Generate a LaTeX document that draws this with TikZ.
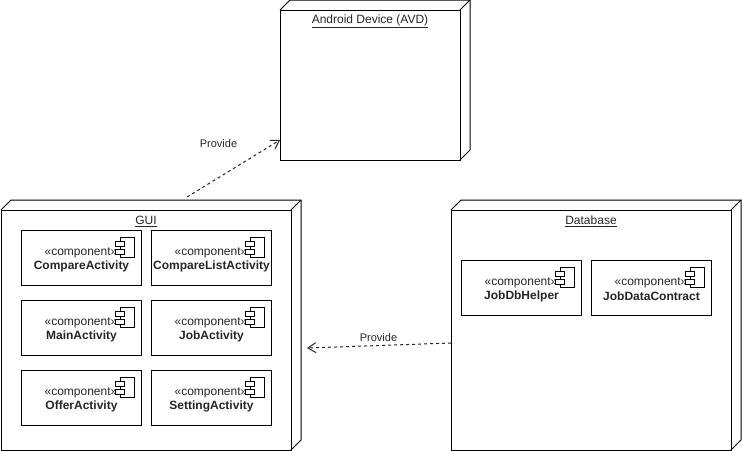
\documentclass[tikz,border=0pt]{standalone}
\usepackage{fontspec}
\setmainfont{Liberation Sans}
\usetikzlibrary{arrows.meta}
\newcommand{\UmlNode}[6]{% name, x1, y1, x2, y2, title
  \node[devbox, minimum width={(#4-#2)*1pt}, minimum height={(#5-#3)*1pt}] (#1) at ({(#2+#4)/2},{(#3+#5)/2}) {};
  \draw[devedge] (#1.north west) -- ++(10,-10) -- ++({#4-#2},0) -- ++(0,{#5-#3}) -- (#1.south east);
  \draw[devedge] (#1.north east) -- ++(10,-10);
  \node[devtitle] (#1title) at ({(#2+#4)/2},{#3+11.5}) {\underline{#6}};
}
\newcommand{\UmlComp}[4]{% name, x, y, label
  \node[compbox] (#1) at ({#2+60},{#3+27.5}) {};
  \node[comptext] (#1st) at ({#2+60},{#3+23}) {«component»};
  \node[comptext,font=\fontsize{12}{14}\selectfont\bfseries] (#1nm) at ({#2+60.5},{#3+36.5}) {#4};
  \draw[compicon] ({#2+99},{#3+7}) rectangle ({#2+113},{#3+27});
  \draw[compicon] ({#2+94},{#3+11}) rectangle ({#2+103},{#3+16});
  \draw[compicon] ({#2+94},{#3+19}) rectangle ({#2+103},{#3+24});
}
\tikzset{
  x=1pt,y=-1pt,
  devbox/.style={draw=black,fill=white,line width=1pt,inner sep=0pt,outer sep=0pt},
  devedge/.style={draw=black,line width=1pt,line join=miter},
  devtitle/.style={font=\fontsize{12}{14}\selectfont,text=black!85,inner sep=0pt},
  compbox/.style={draw=black,fill=white,line width=1pt,minimum width=120pt,minimum height=55pt,inner sep=0pt,outer sep=0pt},
  comptext/.style={font=\fontsize{12}{14}\selectfont,text=black!85,inner sep=0pt},
  compicon/.style={draw=black,fill=white,line width=1pt},
  dep/.style={draw=black!85,line width=1pt,dash pattern=on 3pt off 3pt,-{Straight Barb[length=8pt,width=10pt,line width=1pt]}},
  deplabel/.style={font=\fontsize{11}{13}\selectfont,text=black!85,inner sep=0pt},
}
\begin{document}
\begin{tikzpicture}
\useasboundingbox (0,0) rectangle (742,451);
\fill[white] (0,0) rectangle (742,451);
\UmlNode{avd}{280}{10}{460}{160}{Android Device (AVD)}
\UmlNode{gui}{1}{210}{291}{450}{GUI}
\UmlNode{db}{451}{210}{731}{450}{Database}
\UmlComp{ca}{21}{230}{CompareActivity}
\UmlComp{cl}{151}{230}{CompareListActivity}
\UmlComp{ma}{21}{300}{MainActivity}
\UmlComp{ja}{151}{300}{JobActivity}
\UmlComp{oa}{21}{370}{OfferActivity}
\UmlComp{sa}{151}{370}{SettingActivity}
\UmlComp{jh}{461}{260}{JobDbHelper}
\UmlComp{jc}{591}{260}{JobDataContract}
\coordinate (guitop) at (187,197);
\coordinate (avdin) at (280,140);
\coordinate (dbout) at (451,343);
\coordinate (guiin) at (307,348);
\draw[dep] (guitop) -- (avdin);
\draw[dep] (dbout) -- (guiin);
\node[deplabel] (l1) at (218.5,143.5) {Provide};
\node[deplabel] (l2) at (378.5,337.5) {Provide};
\end{tikzpicture}
\end{document}
